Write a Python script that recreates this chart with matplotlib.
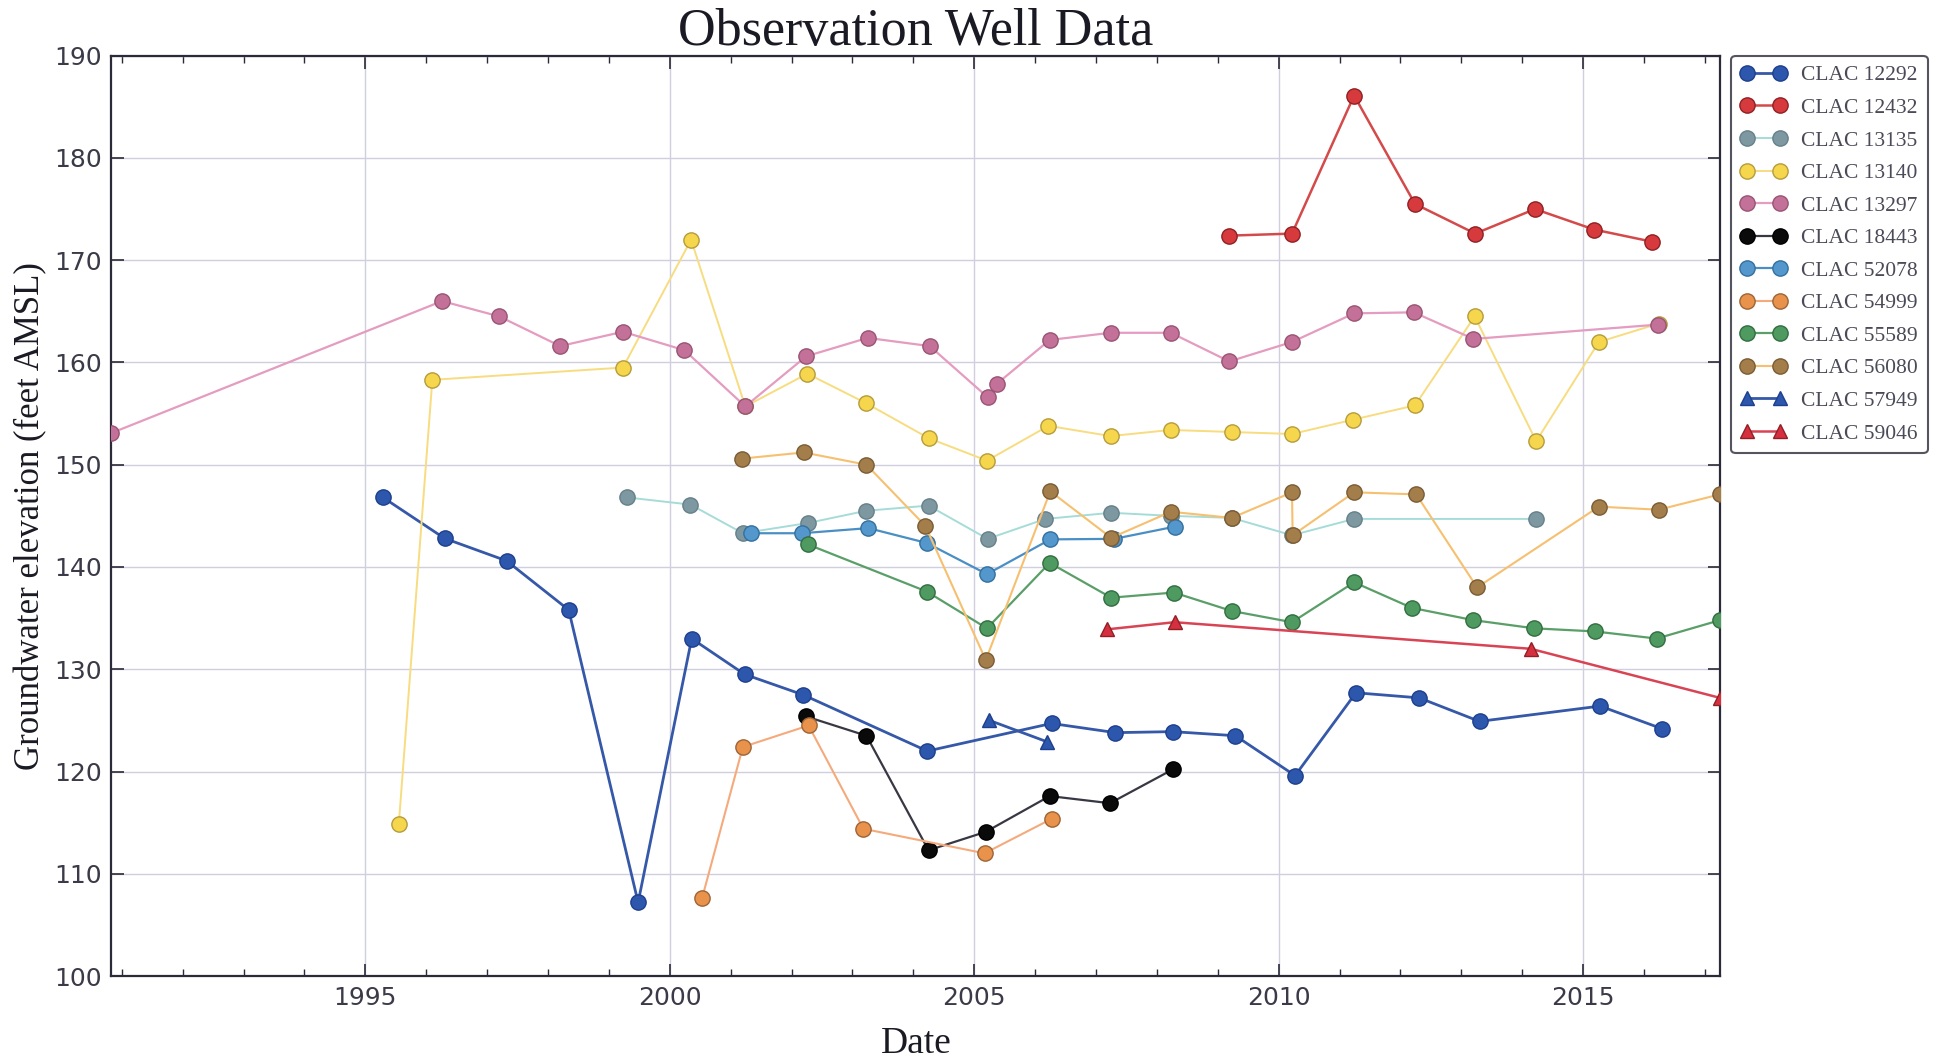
import matplotlib
matplotlib.use('Agg')
import matplotlib.pyplot as plt
from matplotlib.ticker import MultipleLocator

# ---- data (decimal year, groundwater elevation in feet AMSL) ----
wells = ['CLAC 12292', 'CLAC 12432', 'CLAC 13135', 'CLAC 13140', 'CLAC 13297', 'CLAC 18443',
         'CLAC 52078', 'CLAC 54999', 'CLAC 55589', 'CLAC 56080', 'CLAC 57949', 'CLAC 59046']

t_12292 = [1995.29, 1996.30, 1997.32, 1998.34, 1999.48, 2000.36, 2001.23, 2002.19, 2004.23, 2006.27,
           2007.32, 2008.26, 2009.29, 2010.27, 2011.27, 2012.31, 2013.30, 2015.28, 2016.29]
v_12292 = [146.8, 142.8, 140.6, 135.8, 107.2, 133.0, 129.5, 127.5, 122.0, 124.7,
           123.8, 123.9, 123.5, 119.6, 127.7, 127.2, 124.9, 126.4, 124.2]

t_12432 = [2009.19, 2010.22, 2011.24, 2012.24, 2013.23, 2014.21, 2015.18, 2016.14]
v_12432 = [172.4, 172.6, 186.1, 175.5, 172.6, 175.0, 173.0, 171.8]

t_13135 = [1999.30, 2000.34, 2001.20, 2002.27, 2003.23, 2004.25, 2005.22, 2006.17, 2007.25, 2008.23,
           2009.23, 2010.22, 2011.24, 2014.23]
v_13135 = [146.8, 146.1, 143.3, 144.3, 145.5, 146.0, 142.75, 144.7, 145.3, 145.0,
           144.8, 143.1, 144.7, 144.7]

t_13140 = [1995.55, 1996.10, 1999.23, 2000.35, 2001.24, 2002.26, 2003.23, 2004.25, 2005.21, 2006.22,
           2007.24, 2008.23, 2009.23, 2010.22, 2011.22, 2012.24, 2013.22, 2014.23, 2015.26, 2016.24]
v_13140 = [114.9, 158.3, 159.5, 172.0, 155.7, 158.9, 156.0, 152.6, 150.4, 153.8,
           152.8, 153.4, 153.2, 153.0, 154.4, 155.8, 164.5, 152.3, 162.0, 163.8]

t_13297 = [1990.83, 1996.26, 1997.20, 1998.20, 1999.23, 2000.24, 2001.24, 2002.24, 2003.25, 2004.27,
           2005.22, 2005.37, 2006.24, 2007.24, 2008.23, 2009.19, 2010.22, 2011.24, 2012.22, 2013.20, 2016.23]
v_13297 = [153.1, 166.0, 164.5, 161.6, 163.0, 161.2, 155.7, 160.6, 162.4, 161.6,
           156.6, 157.9, 162.2, 162.9, 162.9, 160.1, 162.0, 164.8, 164.9, 162.3, 163.7]

t_18443 = [2002.23, 2003.23, 2004.25, 2005.19, 2006.24, 2007.23, 2008.26]
v_18443 = [125.4, 123.5, 112.3, 114.1, 117.6, 116.9, 120.2]

t_52078 = [2001.33, 2002.17, 2003.26, 2004.22, 2005.21, 2006.25, 2007.30, 2008.30]
v_52078 = [143.3, 143.3, 143.8, 142.35, 139.3, 142.7, 142.75, 143.95]

t_54999 = [2000.53, 2001.20, 2002.28, 2003.18, 2005.17, 2006.28]
v_54999 = [107.6, 122.4, 124.5, 114.4, 112.0, 115.4]

t_55589 = [2002.27, 2004.22, 2005.21, 2006.24, 2007.25, 2008.28, 2009.23, 2010.22, 2011.24, 2012.19,
           2013.20, 2014.20, 2015.19, 2016.21, 2017.25]
v_55589 = [142.2, 137.6, 134.0, 140.4, 137.0, 137.5, 135.7, 134.6, 138.5, 136.0,
           134.8, 134.0, 133.7, 133.0, 134.8]

t_56080 = [2001.19, 2002.20, 2003.23, 2004.20, 2005.19, 2006.25, 2007.25, 2008.23, 2009.23, 2010.22,
           2010.23, 2011.24, 2012.26, 2013.26, 2015.26, 2016.24, 2017.25]
v_56080 = [150.6, 151.2, 150.0, 144.0, 130.9, 147.4, 142.85, 145.4, 144.8, 147.3,
           143.1, 147.3, 147.1, 138.0, 145.9, 145.6, 147.1]

t_57949 = [2005.25, 2006.20]
v_57949 = [125.0, 122.9]

t_59046 = [2007.18, 2008.29, 2014.14, 2017.25]
v_59046 = [133.9, 134.6, 132.0, 127.2]

x_min, x_max = 1990.83, 2017.25
y_min, y_max = 100, 190

series = [
    (t_12292, v_12292, 'o', '#2d57ad', '#1d3f8c', '#3558a8', 2.0),
    (t_12432, v_12432, 'o', '#d63a3c', '#8f2024', '#d44a4a', 1.8),
    (t_13135, v_13135, 'o', '#7e98a2', '#66808a', '#a6dcd8', 1.4),
    (t_13140, v_13140, 'o', '#f6d64c', '#b59c3c', '#f7dc80', 1.4),
    (t_13297, v_13297, 'o', '#c4719a', '#985473', '#e49cc0', 1.6),
    (t_18443, v_18443, 'o', '#0a0a0a', '#000000', '#383844', 1.6),
    (t_52078, v_52078, 'o', '#5497cc', '#33709e', '#4a8fc4', 1.6),
    (t_54999, v_54999, 'o', '#e8924c', '#9c6436', '#f5aa7c', 1.5),
    (t_55589, v_55589, 'o', '#4e9a60', '#326e40', '#5a9e68', 1.6),
    (t_56080, v_56080, 'o', '#a47e4a', '#7a5c34', '#f6c070', 1.5),
    (t_57949, v_57949, '^', '#2d57ad', '#1d3f8c', '#3558a8', 2.0),
    (t_59046, v_59046, '^', '#d63040', '#8f2024', '#d84454', 1.8),
]

serif = ['Liberation Serif', 'DejaVu Serif']
text_col = '#3a3a48'
spine_col = '#2a2a38'

fig = plt.figure(figsize=(19.42, 10.60), dpi=100)
ax = fig.add_axes([0.0574, 0.0792, 0.8283, 0.8683])

for (t, v, m, fc, ec, lc, lw), name in zip(series, wells):
    ax.plot(t, v, marker=m, color=lc, lw=lw, markerfacecolor=fc, markeredgecolor=ec,
            markeredgewidth=1.0, markersize=11 if m == 'o' else 10.5, label=name, zorder=3)

ax.set_xlim(x_min, x_max)
ax.set_ylim(y_min, y_max)
ax.xaxis.set_major_locator(MultipleLocator(5))
ax.xaxis.set_minor_locator(MultipleLocator(1))
ax.yaxis.set_major_locator(MultipleLocator(10))
ax.xaxis.set_major_formatter(matplotlib.ticker.FormatStrFormatter('%d'))

ax.grid(True, which='major', color='#cfcfe0', lw=1.0, zorder=0)
ax.set_axisbelow(True)
ax.tick_params(which='both', direction='in', top=True, right=True, colors=spine_col,
               labelcolor=text_col, labelsize=18, pad=7)
ax.tick_params(which='major', length=9, width=1.2)
ax.tick_params(which='minor', length=5, width=1.0)
for lab in ax.get_xticklabels() + ax.get_yticklabels():
    lab.set_family('DejaVu Sans')
for s in ax.spines.values():
    s.set_color(spine_col)
    s.set_linewidth(1.6)

ax.set_title('Observation Well Data', family=serif, fontsize=37.5, color='#1a1a24', pad=8)
ax.set_xlabel('Date', family=serif, fontsize=27, color='#1a1a24', labelpad=12)
ax.set_ylabel('Groundwater elevation (feet AMSL)', family=serif, fontsize=25, color='#1a1a24', labelpad=5)

leg = ax.legend(loc='upper left', bbox_to_anchor=(1.007, 1.0), borderaxespad=0, numpoints=2,
                handlelength=2.1, handletextpad=0.7, labelspacing=0.58, borderpad=0.45,
                fancybox=True, prop={'family': serif, 'size': 15.5})
leg.get_frame().set_edgecolor(spine_col)
leg.get_frame().set_linewidth(1.5)
for txt in leg.get_texts():
    txt.set_color('#4a4a58')

fig.savefig('out.png', dpi=100)
